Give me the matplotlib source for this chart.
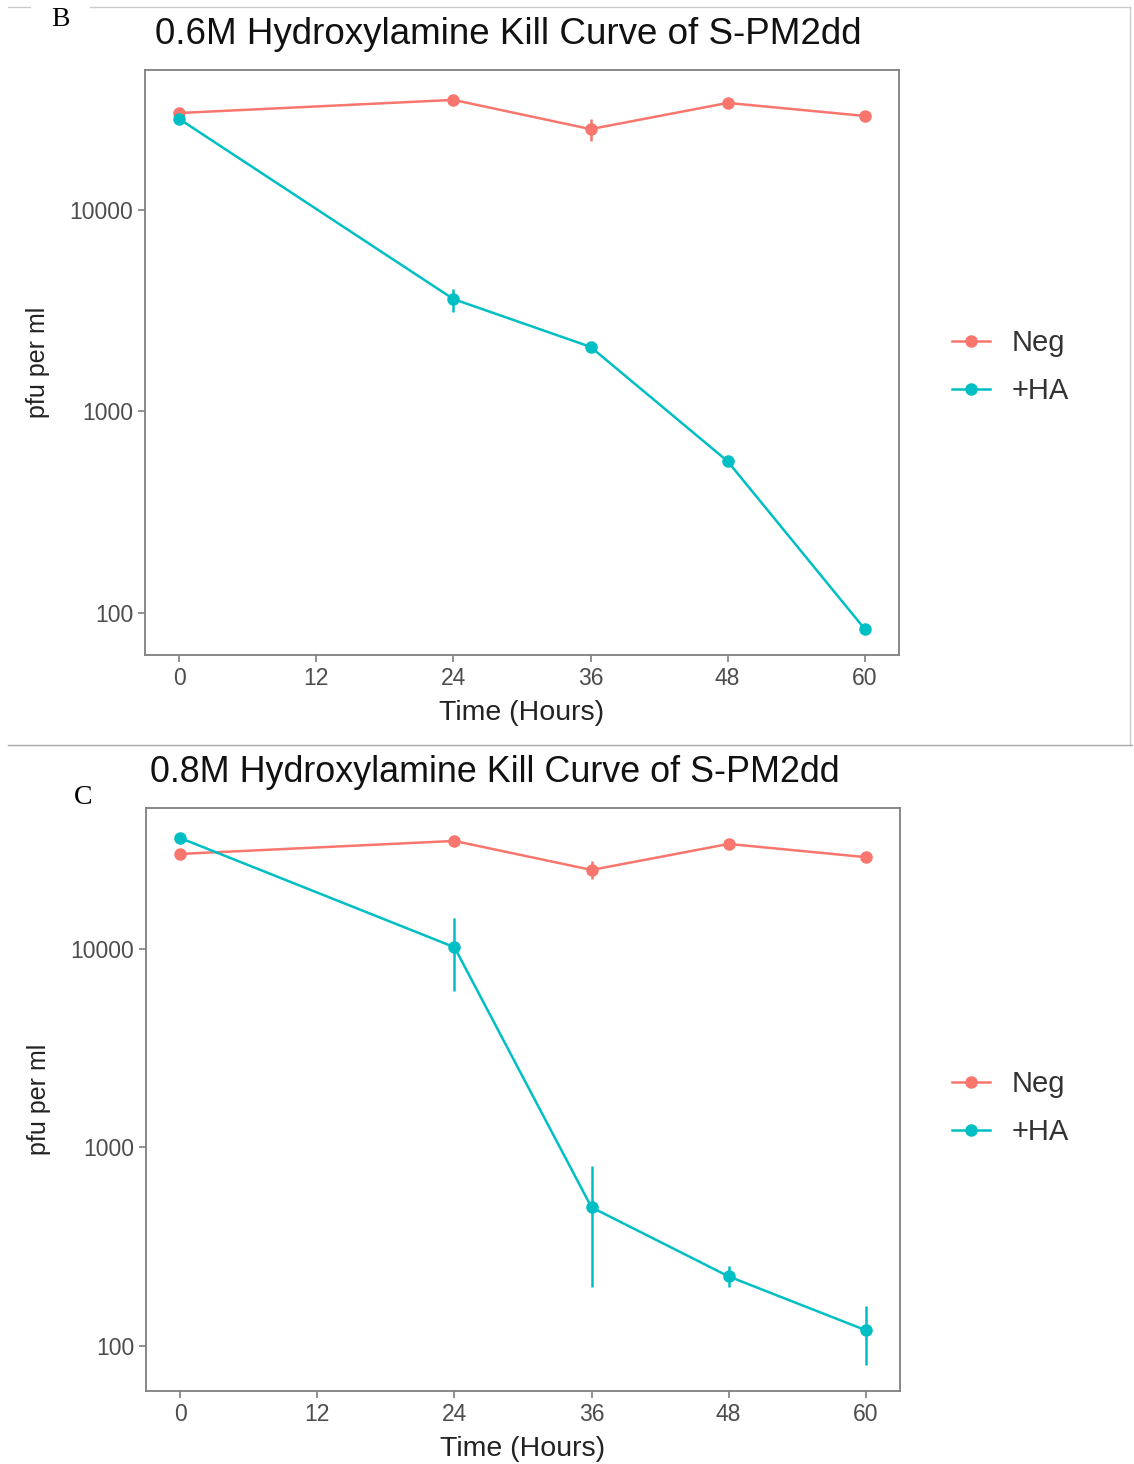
import matplotlib
matplotlib.use("Agg")
import matplotlib.pyplot as plt
from matplotlib.lines import Line2D
import numpy as np

plt.rcParams['font.family'] = ['Liberation Sans', 'DejaVu Sans']

hours = [0, 24, 36, 48, 60]
series_labels = ["Neg", "+HA"]
colors = ["#F8766D", "#00BFC4"]

# Panel B (0.6M)
b_neg = [30300, 35200, 25200, 34000, 29300]
b_neg_lo = [30300, 35200, 22000, 34000, 29300]
b_neg_hi = [30300, 35200, 28300, 34000, 29300]
b_ha = [28300, 3610, 2090, 565, 83]
b_ha_lo = [28300, 3100, 2090, 565, 83]
b_ha_hi = [28300, 4070, 2090, 565, 83]

# Panel C (0.8M)
c_neg = [30100, 35000, 25000, 33800, 29000]
c_neg_lo = [30100, 35000, 22500, 33800, 29000]
c_neg_hi = [30100, 35000, 27800, 33800, 29000]
c_ha = [36200, 10200, 499, 224, 120]
c_ha_lo = [36200, 6140, 197, 197, 80]
c_ha_hi = [36200, 14300, 802, 252, 159]

titles = ["0.6M Hydroxylamine Kill Curve of S-PM2dd",
          "0.8M Hydroxylamine Kill Curve of S-PM2dd"]
xticks = [0, 12, 24, 36, 48, 60]
yticks = [100, 1000, 10000]
ytick_labels = ["100", "1000", "10000"]

W, H = 1134, 1464
fig = plt.figure(figsize=(W / 100, H / 100), dpi=100)

def px_axes(left, top, right, bottom):
    return fig.add_axes([left / W, 1 - bottom / H, (right - left) / W, (bottom - top) / H])

panels = [
    dict(box=(145, 70, 899, 655), ylim=(10**1.79, 10**4.695), title=titles[0],
         data=[(b_neg, b_neg_lo, b_neg_hi), (b_ha, b_ha_lo, b_ha_hi)],
         title_xy=(155, 35), title_size=26.5, leg_y=(343, 391), letter="B", letter_xy=(60, 20)),
    dict(box=(146, 808, 900, 1391), ylim=(10**1.773, 10**4.71), title=titles[1],
         data=[(c_neg, c_neg_lo, c_neg_hi), (c_ha, c_ha_lo, c_ha_hi)],
         title_xy=(150, 772), title_size=25.8, leg_y=(1084, 1132), letter="C", letter_xy=(83, 797)),
]

gray_txt = "#4D4D4D"
for p in panels:
    ax = px_axes(*p["box"])
    handles = []
    for (vals, lo, hi), col, lab in zip(p["data"], colors, series_labels):
        vals = np.array(vals, float)
        yerr = np.vstack([vals - np.array(lo, float), np.array(hi, float) - vals])
        ax.errorbar(hours, vals, yerr=yerr, color=col, lw=1.8, marker="o", ms=8,
                    elinewidth=1.8, capsize=0, zorder=3)
        handles.append(Line2D([0], [0], color=col, lw=1.8, marker="o", ms=8))
    ax.set_yscale("log")
    ax.set_xlim(-3, 63)
    ax.set_ylim(*p["ylim"])
    ax.set_xticks(xticks)
    ax.set_xticklabels([str(t) for t in xticks])
    ax.set_yticks(yticks)
    ax.set_yticklabels(ytick_labels)
    ax.yaxis.set_minor_locator(matplotlib.ticker.NullLocator())
    ax.tick_params(axis="both", colors="#7F7F7F", labelcolor=gray_txt, labelsize=16.5,
                   length=5, width=1.2, direction="out")
    for s in ax.spines.values():
        s.set_color("#7F7F7F")
        s.set_linewidth(1.3)
    ax.set_xlabel("Time (Hours)", fontsize=20.5, color="#222222", labelpad=7)
    ax.set_ylabel("pfu per ml", fontsize=18, color="#222222", labelpad=14)
    fig.text(p["title_xy"][0] / W, 1 - p["title_xy"][1] / H, p["title"], fontsize=p["title_size"],
             color="#111111", ha="left", va="center")
    fig.text(p["letter_xy"][0] / W, 1 - p["letter_xy"][1] / H, p["letter"], fontsize=20,
             family="Liberation Serif", ha="center", va="center")
    ymid = (p["leg_y"][0] + p["leg_y"][1]) / 2
    fig.legend(handles=handles, labels=series_labels, loc="center left",
               bbox_to_anchor=(926 / W, 1 - ymid / H), frameon=False, fontsize=21,
               handlelength=1.3, labelspacing=0.7, handletextpad=0.75,
               labelcolor="#333333")

# composite frame lines around panel B
fc = "#CCCCCC"
fig.add_artist(Line2D([8 / W, 30 / W], [1 - 7 / H] * 2, color=fc, lw=1))
fig.add_artist(Line2D([90 / W, 1130 / W], [1 - 7 / H] * 2, color=fc, lw=1))
fig.add_artist(Line2D([1130 / W] * 2, [1 - 7 / H, 1 - 745 / H], color=fc, lw=1))
fig.add_artist(Line2D([8 / W, 1132 / W], [1 - 745 / H] * 2, color="#AAAAAA", lw=1))

fig.savefig("out.png", dpi=100, facecolor="white")
